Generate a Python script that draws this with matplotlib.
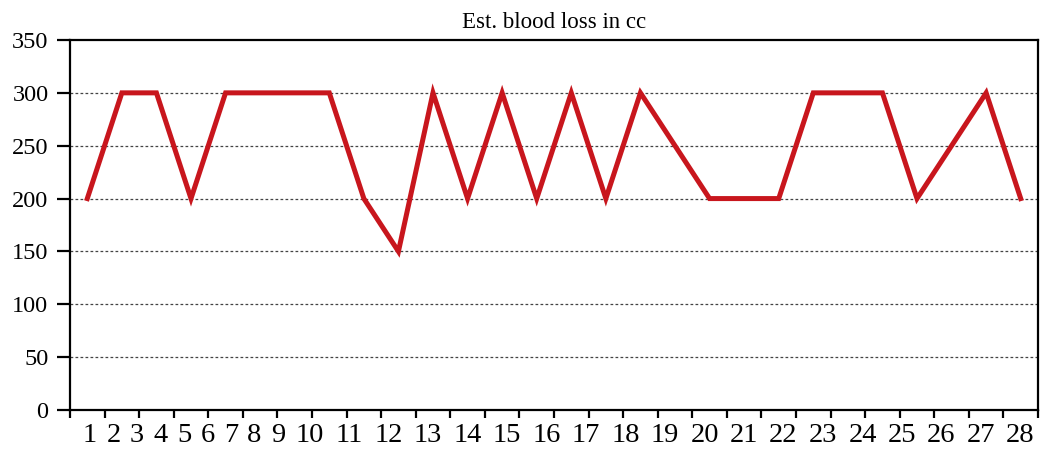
import numpy as np
import matplotlib
matplotlib.use("Agg")
import matplotlib.pyplot as plt
from matplotlib.ticker import FixedLocator, NullFormatter

# Data
cases = [str(i) for i in range(1, 29)]
blood_loss = [200, 300, 300, 200, 300, 300, 300, 300, 200, 150,
              300, 200, 300, 200, 300, 200, 300, 250, 200, 200,
              200, 300, 300, 300, 200, 250, 300, 200]
y_ticks = [0, 50, 100, 150, 200, 250, 300, 350]
title = "Est. blood loss in cc"

plt.rcParams['font.family'] = ['Liberation Serif', 'DejaVu Serif']

fig = plt.figure(figsize=(10.41, 4.5), dpi=100)
ax = fig.add_axes([70 / 1041, 40 / 450, 968 / 1041, 370 / 450])

x = np.arange(len(blood_loss))
ax.plot(x, blood_loss, color='#c8161d', lw=3.6, solid_joinstyle='miter', zorder=3)

ax.set_xlim(-0.5, len(blood_loss) - 0.5)
ax.set_ylim(0, 350)
ax.set_yticks(y_ticks)
ax.tick_params(axis='y', length=9.5, width=1.6, labelsize=17.5, pad=6, direction='out')

# ticks on category boundaries, labels drawn separately (packed like the original)
ax.xaxis.set_major_locator(FixedLocator(np.arange(-0.5, len(blood_loss), 1.0)))
ax.xaxis.set_major_formatter(NullFormatter())
ax.tick_params(axis='x', length=6, width=1.6, direction='out')

for s in ax.spines.values():
    s.set_linewidth(1.6)
    s.set_color('black')

for v in y_ticks[1:-1]:
    ax.axhline(v, color='#444444', lw=0.9, ls=(0, (2.2, 1.8)), zorder=1)

# packed category labels
digit_w, gap, cursor = 16.0, 7.5, 12.0
for lab in cases:
    w = len(lab) * digit_w
    ax.annotate(lab, xy=(0, 0), xycoords='axes fraction',
                xytext=(cursor + w / 2, -26), textcoords='offset pixels',
                ha='center', va='center', fontsize=20.5, annotation_clip=False)
    cursor += w + gap

ax.set_title(title, fontsize=16.5, pad=9)

fig.savefig("out.png", dpi=100)
